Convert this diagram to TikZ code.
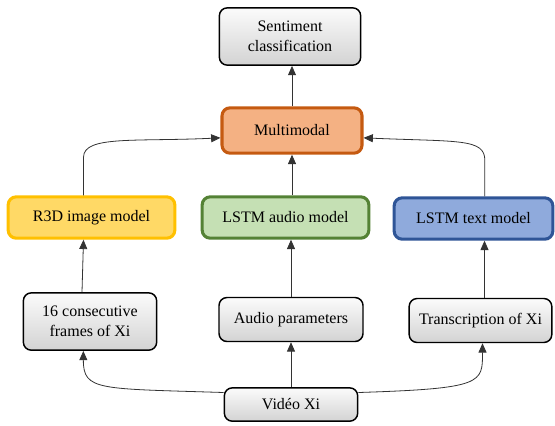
\documentclass[tikz,border=0pt]{standalone}
\usepackage{fontspec}
\setmainfont{Liberation Serif}
\usetikzlibrary{arrows.meta}

\definecolor{orfill}{HTML}{F4B183}
\definecolor{ordraw}{HTML}{C55A11}
\definecolor{yefill}{HTML}{FFD966}
\definecolor{yedraw}{HTML}{FFC000}
\definecolor{grfill}{HTML}{C5E0B4}
\definecolor{grdraw}{HTML}{548235}
\definecolor{blfill}{HTML}{8FAADC}
\definecolor{bldraw}{HTML}{2F5597}
\definecolor{gytop}{HTML}{FBFBFB}
\definecolor{gybot}{HTML}{D3D3D3}

\tikzset{
  basebox/.style={rounded corners=6pt, align=center, inner sep=0.75pt, font=\fontsize{12}{15}\selectfont},
  graybox/.style={basebox, draw=black, line width=1.1pt, top color=gytop, bottom color=gybot},
  modelbox/.style={basebox, line width=2.3pt},
  arr/.style={draw=black!80, line width=0.6pt, -{Triangle[length=7pt,width=6pt]}}
}

\begin{document}
\begin{tikzpicture}[x=0.75pt,y=0.75pt,yscale=-1,xscale=1]
        \useasboundingbox (0,0) rectangle (555,425);

        % Rounded Rect: output
        \node (sent) at (290,36.5) [graybox, minimum width=106pt, minimum height=43pt] {Sentiment\\classification};
        % Rounded Rect: fusion
        \node (mm) at (292,130.5) [modelbox, draw=ordraw, fill=orfill, minimum width=105pt, minimum height=34pt] {Multimodal};

        % Rounded Rect: models
        \node (r3d) at (91.5,217.5) [modelbox, draw=yedraw, fill=yefill, minimum width=125pt, minimum height=31pt] {R3D image model};
        \node (lstma) at (285.5,217.5) [modelbox, draw=grdraw, fill=grfill, minimum width=125pt, minimum height=31pt] {LSTM audio model};
        \node (lstmt) at (473.5,218.5) [modelbox, draw=bldraw, fill=blfill, minimum width=119pt, minimum height=31pt] {LSTM text model};

        % Rounded Rect: inputs
        \node (cons) at (90,321.5) [graybox, minimum width=100pt, minimum height=43pt] {16 consecutive\\frames of Xi};
        \node (audp) at (291,319.5) [graybox, minimum width=108pt, minimum height=33pt] {Audio parameters};
        \node (trans) at (480.5,320.5) [graybox, minimum width=107pt, minimum height=33pt] {Transcription of Xi};

        % Rounded Rect: source
        \node (vid) at (291,404.5) [graybox, minimum width=100pt, minimum height=25pt] {Vidéo Xi};

        % Connectors
        \draw[arr] (mm.north) -- (mm.north |- sent.south);
        \draw[arr] (lstma.north -| mm.south) -- (mm.south);
        \draw[arr] ([xshift=-6pt]r3d.north) -- ++(0,-38) .. controls +(0,-22) and +(-85,4) .. ([yshift=5.5pt]mm.west);
        \draw[arr] ([xshift=8.5pt]lstmt.north) -- ++(0,-36) .. controls +(0,-22) and +(95,4) .. ([yshift=5.5pt]mm.east);

        \draw[arr] ([xshift=-6pt]cons.north) -- ([xshift=-6pt]r3d.south);
        \draw[arr] (audp.north) -- (audp.north |- lstma.south);
        \draw[arr] ([xshift=3pt]trans.north) -- ([xshift=3pt]trans.north |- lstmt.south);

        \draw[arr] (vid.north) -- (vid.north |- audp.south);
        \draw[arr] ([yshift=-9pt]vid.west) .. controls +(-125,-4) and +(0,40) .. ([xshift=-5pt]cons.south);
        \draw[arr] ([yshift=-9pt]vid.east) .. controls +(125,-4) and +(0,40) .. ([xshift=1.5pt]trans.south);

\end{tikzpicture}
\end{document}
